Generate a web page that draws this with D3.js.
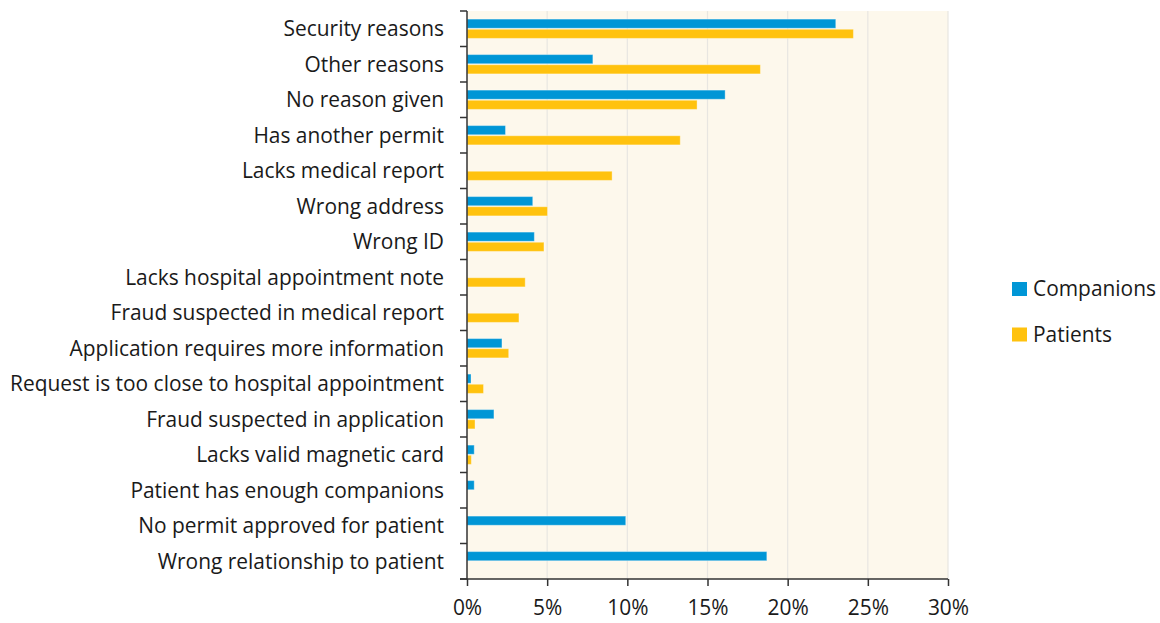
<!DOCTYPE html>
<html>
<head>
<meta charset="utf-8">
<script src="https://cdn.jsdelivr.net/npm/d3@7"></script>
<style>
  body { margin: 0; background: #fff; }
  text { font-family: "Open Sans", sans-serif; fill: #1a1a1a; }
</style>
</head>
<body>
<svg width="1160" height="623"></svg>
<script>
var svg = d3.select("svg"),
    width = +svg.attr("width"),
    height = +svg.attr("height");

// reasons for rejecting permits, top to bottom
var categories = [
    "Security reasons",
    "Other reasons",
    "No reason given",
    "Has another permit",
    "Lacks medical report",
    "Wrong address",
    "Wrong ID",
    "Lacks hospital appointment note",
    "Fraud suspected in medical report",
    "Application requires more information",
    "Request is too close to hospital appointment",
    "Fraud suspected in application",
    "Lacks valid magnetic card",
    "Patient has enough companions",
    "No permit approved for patient",
    "Wrong relationship to patient"
];

var companions = [23.0, 7.85, 16.1, 2.4, 0, 4.1, 4.2, 0, 0, 2.18, 0.25, 1.68, 0.45, 0.45, 9.9, 18.7];
var patients   = [24.1, 18.3, 14.35, 13.3, 9.05, 5.02, 4.8, 3.63, 3.24, 2.6, 1.03, 0.5, 0.27, 0, 0, 0];

var seriesNames = ["Companions", "Patients"];
var xTicks = [0, 5, 10, 15, 20, 25, 30];

var colors = { Companions: "#0096d6", Patients: "#ffc20e" };

var margin = { left: 467, right: 212, top: 11, bottom: 44 };

// fit the font so the longest label spans about as wide as in the original
var probe = svg.append("text").style("font-size", "20px").text(categories[10]);
var fontSize = 20 * 434 / probe.node().getComputedTextLength();
probe.remove();
fontSize = Math.min(fontSize, 21) + "px";

var x = d3.scaleLinear()
    .domain([0, 30])
    .range([margin.left, width - margin.right]);

var y = d3.scaleBand()
    .domain(categories)
    .range([margin.top, height - margin.bottom]);

var inner = d3.scaleBand()
    .domain(seriesNames)
    .range([0, y.bandwidth()])
    .paddingOuter(0.75);

// plot background
svg.append("rect")
    .attr("x", x(0))
    .attr("y", margin.top)
    .attr("width", x(30) - x(0))
    .attr("height", height - margin.bottom - margin.top)
    .style("fill", "#fdf8ec");

// vertical gridlines
svg.append("g")
    .selectAll("line")
    .data(xTicks.slice(1))
    .enter().append("line")
    .attr("x1", d => x(d)).attr("x2", d => x(d))
    .attr("y1", margin.top).attr("y2", height - margin.bottom)
    .attr("stroke", "#e8e6e1")
    .attr("stroke-width", 1.2);

var rows = categories.map((c, i) => ({
    name: c,
    values: [
        { series: "Companions", value: companions[i] },
        { series: "Patients", value: patients[i] }
    ]
}));

var group = svg.append("g")
    .selectAll("g")
    .data(rows)
    .enter().append("g")
    .attr("transform", d => "translate(0," + y(d.name) + ")");

group.selectAll("rect")
    .data(d => d.values.filter(v => v.value > 0))
    .enter().append("rect")
    .attr("x", x(0))
    .attr("y", d => inner(d.series) + 0.5)
    .attr("width", d => x(d.value) - x(0))
    .attr("height", inner.bandwidth() - 1)
    .style("fill", d => colors[d.series])
    .style("stroke", "rgba(255,255,255,0.35)")
    .style("stroke-width", 1);

// axes
var yAxis = svg.append("g")
    .attr("transform", "translate(" + x(0) + ",0)")
    .call(d3.axisLeft(y).tickSize(0).tickPadding(23));

yAxis.select(".domain").remove();
yAxis.selectAll("text")
    .style("font-size", fontSize)
    .attr("dy", "0.36em");

// y tick marks between categories
svg.append("g")
    .selectAll("line")
    .data(d3.range(categories.length + 1))
    .enter().append("line")
    .attr("x1", x(0) - 7).attr("x2", x(0))
    .attr("y1", i => margin.top + i * y.step())
    .attr("y2", i => margin.top + i * y.step())
    .attr("stroke", "#333")
    .attr("stroke-width", 1.5);

svg.append("line")
    .attr("x1", x(0)).attr("x2", x(0))
    .attr("y1", margin.top).attr("y2", height - margin.bottom)
    .attr("stroke", "#333")
    .attr("stroke-width", 1.5);

var xAxis = svg.append("g")
    .attr("transform", "translate(0," + (height - margin.bottom) + ")")
    .call(d3.axisBottom(x).tickValues(xTicks).tickFormat(d => d + "%").tickSize(7).tickSizeOuter(0).tickPadding(14));

xAxis.select(".domain").attr("stroke", "#333").attr("stroke-width", 1.5)
    .attr("d", "M" + (x(0) - 7) + ",0H" + x(30));
xAxis.selectAll("line").attr("stroke", "#333").attr("stroke-width", 1.5);
xAxis.selectAll("text").style("font-size", fontSize).attr("fill", "#1a1a1a");

// legend
var legend = svg.append("g")
    .selectAll("g")
    .data(seriesNames)
    .enter().append("g")
    .attr("transform", (d, i) => "translate(1012," + (282 + i * 45.5) + ")");

legend.append("rect")
    .attr("width", 15)
    .attr("height", 14)
    .style("fill", d => colors[d]);

legend.append("text")
    .attr("x", 21)
    .attr("y", 14)
    .style("font-size", fontSize)
    .text(d => d);
</script>
</body>
</html>
